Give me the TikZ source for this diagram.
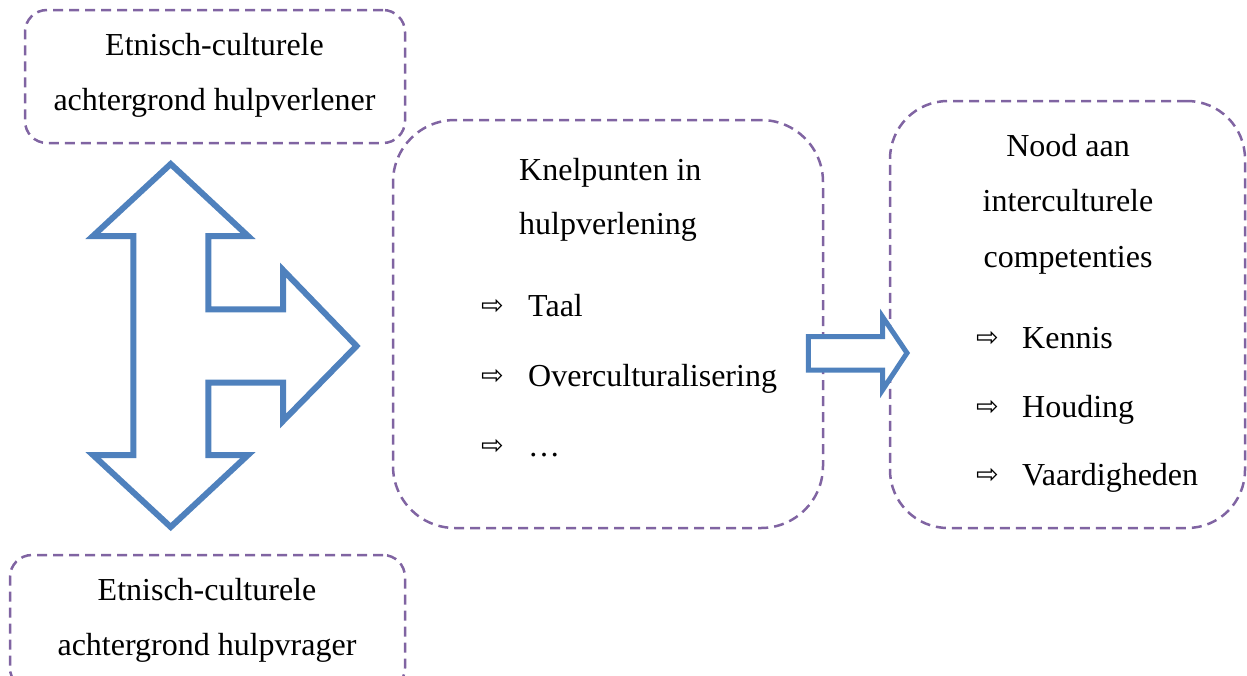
\documentclass[tikz,border=0pt]{standalone}
\usepackage{fontspec}
\setmainfont{Liberation Serif}
\newfontfamily\serifface{Liberation Serif}
\newfontfamily\symfont{DejaVu Sans}
\definecolor{boxpurple}{HTML}{8064A2}
\definecolor{arrowblue}{HTML}{4F81BD}
\begin{document}
\begin{tikzpicture}[x=1pt,y=-1pt,
  box/.style={draw=boxpurple, dash pattern=on 10pt off 6pt, line width=2.5pt, rectangle, inner sep=0pt},
  txt/.style={font=\serifface\fontsize{32}{40}\selectfont, inner sep=0pt, anchor=base},
  ltxt/.style={txt, anchor=base west},
  bullet/.style={font=\symfont\fontsize{27}{30}\selectfont, inner sep=0pt, anchor=base west},
  blockarrow/.style={draw=arrowblue, line width=6pt, line join=miter, fill=white}
]
\useasboundingbox (0,0) rectangle (1247,675);
\begin{scope}
\clip (0,0) rectangle (1247,675);
% boxes
\node[box, rounded corners=22pt, minimum width=380pt, minimum height=133pt] (tl) at (215,76.5) {};
\node[box, rounded corners=22pt, minimum width=395pt, minimum height=135pt] (bl) at (207.5,622.5) {};
\node[box, rounded corners=62pt, minimum width=430pt, minimum height=408pt] (mid) at (608,324) {};
\node[box, rounded corners=58pt, minimum width=355pt, minimum height=427pt] (right) at (1067.5,314.5) {};
\end{scope}
% block arrows
\draw[blockarrow] (170.7,164) -- (93,236) -- (133.3,236) -- (133.3,455) -- (93,455) -- (170.7,527)
  -- (248,455) -- (208.3,455) -- (208.3,382.7) -- (283,382.7) -- (283,421) -- (356.5,346)
  -- (283,270) -- (283,309.3) -- (208.3,309.3) -- (208.3,236) -- (248,236) -- cycle;
\draw[blockarrow, line width=5pt] (808.3,336.7) -- (882.7,336.7) -- (882.7,317) -- (907,353)
  -- (882.7,389.7) -- (882.7,370) -- (808.3,370) -- cycle;
% top-left text
\node[txt] (tl1) at (214.5,55) {Etnisch-culturele};
\node[txt] (tl2) at (214.5,110) {achtergrond hulpverlener};
% bottom-left text
\node[txt] (bl1) at (207,600) {Etnisch-culturele};
\node[txt] (bl2) at (207,655) {achtergrond hulpvrager};
% middle text
\node[ltxt] (m1) at (519,180) {Knelpunten in};
\node[ltxt] (m2) at (519,234) {hulpverlening};
\node[bullet] (mb1) at (481,314) {⇨};
\node[ltxt] (mi1) at (528,316) {Taal};
\node[bullet] (mb2) at (481,384) {⇨};
\node[ltxt] (mi2) at (528,386) {Overculturalisering};
\node[bullet] (mb3) at (481,454) {⇨};
\node[ltxt] (mi3) at (528,456) {\dots};
% right text
\node[txt] (r1) at (1068,156) {Nood aan};
\node[txt] (r2) at (1068,211) {interculturele};
\node[txt] (r3) at (1068,267) {competenties};
\node[bullet] (rb1) at (976,346) {⇨};
\node[ltxt] (ri1) at (1022,348) {Kennis};
\node[bullet] (rb2) at (976,415) {⇨};
\node[ltxt] (ri2) at (1022,417) {Houding};
\node[bullet] (rb3) at (976,483) {⇨};
\node[ltxt] (ri3) at (1022,485) {Vaardigheden};
\end{tikzpicture}
\end{document}
